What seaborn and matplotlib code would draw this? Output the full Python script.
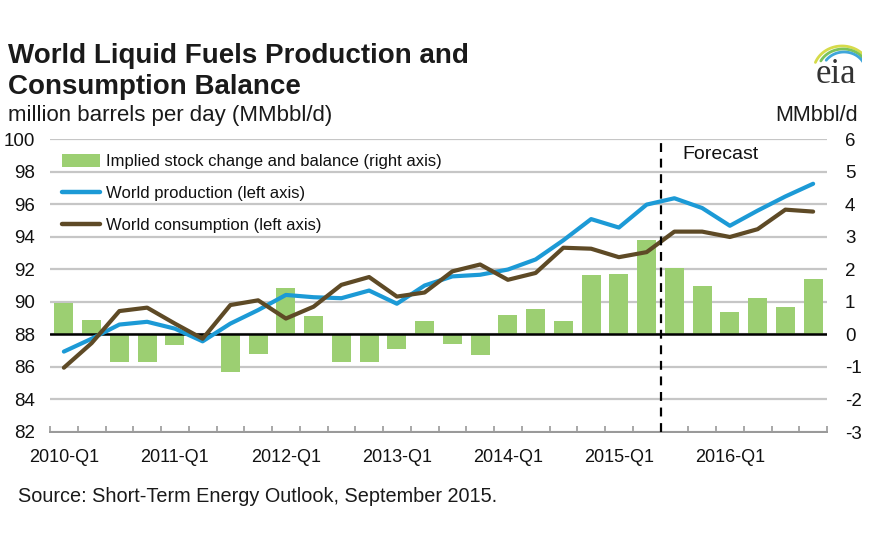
import numpy as np
import pandas as pd
import matplotlib
matplotlib.use("Agg")
import matplotlib.pyplot as plt
import seaborn as sns
from matplotlib.patches import Patch
from matplotlib.lines import Line2D

quarters = ["2010-Q1", "2010-Q2", "2010-Q3", "2010-Q4",
            "2011-Q1", "2011-Q2", "2011-Q3", "2011-Q4",
            "2012-Q1", "2012-Q2", "2012-Q3", "2012-Q4",
            "2013-Q1", "2013-Q2", "2013-Q3", "2013-Q4",
            "2014-Q1", "2014-Q2", "2014-Q3", "2014-Q4",
            "2015-Q1", "2015-Q2", "2015-Q3", "2015-Q4",
            "2016-Q1", "2016-Q2", "2016-Q3", "2016-Q4"]
balance = [0.97, 0.45, -0.86, -0.86, -0.34, -0.05, -1.17, -0.60,
           1.42, 0.57, -0.84, -0.84, -0.45, 0.40, -0.29, -0.62,
           0.58, 0.77, 0.40, 1.81, 1.85, 2.90, 2.04, 1.49,
           0.68, 1.13, 0.83, 1.70]
production = [86.94, 87.73, 88.60, 88.77, 88.35, 87.57, 88.66, 89.49,
              90.42, 90.28, 90.22, 90.69, 89.88, 91.00, 91.56, 91.66,
              91.98, 92.60, 93.78, 95.08, 94.56, 95.97, 96.36, 95.76,
              94.67, 95.60, 96.47, 97.25]
consumption = [85.95, 87.46, 89.43, 89.64, 88.66, 87.73, 89.80, 90.09,
               88.97, 89.70, 91.04, 91.52, 90.32, 90.57, 91.87, 92.29,
               91.35, 91.77, 93.32, 93.26, 92.74, 93.05, 94.31, 94.31,
               93.98, 94.46, 95.66, 95.54]
tick_labels = ["2010-Q1", "2011-Q1", "2012-Q1", "2013-Q1", "2014-Q1", "2015-Q1", "2016-Q1"]
left_ticks = [82, 84, 86, 88, 90, 92, 94, 96, 98, 100]
right_ticks = [-3, -2, -1, 0, 1, 2, 3, 4, 5, 6]
forecast_start = "2015-Q3"

GREEN = "#9CCF72"
BLUE = "#1C9AD6"
BROWN = "#5E4A26"
GRID = "#C6C6C6"

sns.set_theme(style="white")
plt.rcParams["font.family"] = ["Liberation Sans", "DejaVu Sans"]

df = pd.DataFrame({"quarter": quarters, "balance": balance,
                   "production": production, "consumption": consumption})
df["idx"] = np.arange(len(df))

fig = plt.figure(figsize=(8.89, 5.48), dpi=100)
W, H = 889, 548
ax = fig.add_axes([50 / W, 1 - 432 / H, 777 / W, 293 / H])

# bars on right axis scale (drawn underneath)
sns.barplot(data=df, x="quarter", y="balance", order=quarters, ax=ax,
            color=GREEN, saturation=1, width=0.68, edgecolor="none", zorder=3)
ax.set_ylim(-3, 6)
ax.set_xlim(-0.5, len(quarters) - 0.5)
ax.set_xlabel("")
ax.set_ylabel("")
ax.grid(False)
for t in right_ticks:
    ax.axhline(t, color=GRID, lw=1.6, zorder=1)
ax.axhline(0, color="black", lw=1.8, zorder=4)

# lines on left axis
ax2 = ax.twinx()
sns.lineplot(data=df, x="idx", y="production", ax=ax2, color=BLUE, lw=3.0,
             legend=False, solid_capstyle="round")
sns.lineplot(data=df, x="idx", y="consumption", ax=ax2, color=BROWN, lw=3.0,
             legend=False, solid_capstyle="round")
ax2.set_ylim(82, 100)
ax2.set_yticks(left_ticks)
ax2.set_yticklabels([str(t) for t in left_ticks])
ax2.yaxis.tick_left()
ax2.tick_params(axis="y", length=0, pad=11, labelsize=13.5, colors="#111111")
ax2.set_xlim(-0.5, len(quarters) - 0.5)
ax2.set_xlabel("")
ax2.set_ylabel("")
ax2.grid(False)

# right axis ticks (set after twinx)
ax.yaxis.tick_right()
ax.set_yticks(right_ticks)
ax.set_yticklabels([str(t) for t in right_ticks])
ax.tick_params(axis="y", length=0, pad=13, labelsize=13.5, colors="#111111",
               left=False, labelleft=False, right=True, labelright=True)

# forecast divider
fpos = quarters.index(forecast_start) - 0.5
ax2.axvline(fpos, color="black", lw=1.6, ls=(0, (4, 3)), zorder=5)
ax2.text(fpos + 0.8, 99.6, "Forecast", fontsize=14, va="top", ha="left", color="#111111")

# x axis ticks
ax.set_xticks([quarters.index(q) for q in tick_labels])
ax.set_xticklabels(tick_labels)
ax.set_xticks(np.arange(-0.5, len(quarters)), minor=True)
ax.tick_params(axis="x", which="major", length=0, pad=12, labelsize=13, colors="#111111")
ax.tick_params(axis="x", which="minor", length=4, width=1.2, direction="in",
               color="#9A9A9A", bottom=True)
ax2.tick_params(axis="x", bottom=False, labelbottom=False)

for a in (ax, ax2):
    for s in ("top", "left", "right"):
        a.spines[s].set_visible(False)
    a.spines["bottom"].set_color("#9A9A9A")
    a.spines["bottom"].set_linewidth(1.4)

# legend
handles = [Patch(facecolor=GREEN, edgecolor="none"),
           Line2D([], [], color=BLUE, lw=3.2),
           Line2D([], [], color=BROWN, lw=3.2)]
labels = ["Implied stock change and balance (right axis)",
          "World production (left axis)",
          "World consumption (left axis)"]
leg = ax2.legend(handles, labels, loc="upper left", bbox_to_anchor=(0.015, 0.948),
                 frameon=False, fontsize=12, handlelength=2.3, handleheight=0.75,
                 handletextpad=0.35, labelspacing=1.02, borderpad=0, borderaxespad=0)
for t in leg.get_texts():
    t.set_color("#111111")

# titles and notes
fig.text(8 / W, 1 - 63 / H, "World Liquid Fuels Production and", fontsize=20,
         fontweight="bold", va="baseline", ha="left", color="#1a1a1a")
fig.text(8 / W, 1 - 94 / H, "Consumption Balance", fontsize=20,
         fontweight="bold", va="baseline", ha="left", color="#1a1a1a")
fig.text(8 / W, 1 - 121 / H, "million barrels per day (MMbbl/d)", fontsize=16,
         va="baseline", ha="left", color="#1a1a1a")
fig.text(858 / W, 1 - 121 / H, "MMbbl/d", fontsize=15.5,
         va="baseline", ha="right", color="#1a1a1a")
fig.text(18 / W, 1 - 502 / H, "Source: Short-Term Energy Outlook, September 2015.",
         fontsize=14.3, va="baseline", ha="left", color="#1a1a1a")

# eia logo (pixel-based inset: x 800..862, y 37..95 from top)
lax = fig.add_axes([800 / W, 1 - 95 / H, 62 / W, 58 / H])
lax.set_xlim(800, 862)
lax.set_ylim(95, 37)
lax.axis("off")
lax.text(836, 83, "eia", fontsize=25, family=["Liberation Serif", "DejaVu Serif"],
         ha="center", va="baseline", color="#333333")
for r, c, cx, cy, a0, a1 in [(26, "#D6DB4A", 842, 72, 0.20, 0.88),
                             (23, "#7CC35A", 843, 72, 0.12, 0.84),
                             (20, "#3FA6DA", 844, 72, 0.02, 0.80)]:
    th = np.linspace(a0 * np.pi, a1 * np.pi, 60)
    lax.plot(cx + r * np.cos(th) * 1.1, cy - r * np.sin(th), color=c, lw=2.0,
             solid_capstyle="round")

fig.savefig("out.png", dpi=100)
